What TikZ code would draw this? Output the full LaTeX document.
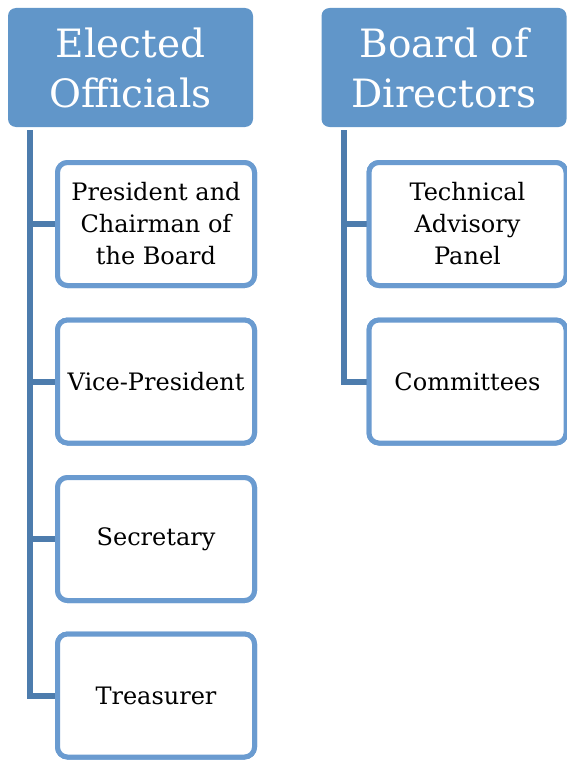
\documentclass[tikz,border=0pt]{standalone}
\usepackage{fontspec}
\setmainfont{DejaVu Serif}
\definecolor{hdrfill}{HTML}{6196C9}
\definecolor{boxline}{HTML}{6A9BD0}
\definecolor{conncol}{HTML}{4D7CAD}
\tikzset{
  header/.style={fill=hdrfill, rounded corners=8pt, minimum width=245pt, minimum height=119pt,
    text=white, align=center, inner sep=0pt,
    font=\fontsize{39}{50}\selectfont},
  child/.style={draw=boxline, line width=5pt, fill=white, rounded corners=10pt,
    minimum width=197pt, minimum height=123pt, align=center, inner sep=0pt,
    font=\fontsize{24}{32}\selectfont},
  conn/.style={draw=conncol, line width=6pt},
}
\begin{document}
\begin{tikzpicture}[x=1pt,y=1pt]
\useasboundingbox (0,0) rectangle (567,-760);
% headers
\node[header] (h1) at (130.5,-67.5) {Elected\\Officials};
\node[header] (h2) at (444,-67.5) {Board of\\Directors};
% connector anchors
\coordinate (t1) at (30,-130);
\coordinate (t2) at (344,-130);
% left children
\node[child] (c1) at (156,-224) {President and\\Chairman of\\the Board};
\node[child] (c2) at (156,-381.5) {Vice-President};
\node[child] (c3) at (156,-539) {Secretary};
\node[child] (c4) at (156,-695.5) {Treasurer};
% right children
\node[child] (d1) at (467.5,-224) {Technical\\Advisory\\Panel};
\node[child] (d2) at (467.5,-381.5) {Committees};
% connectors
\draw[conn] (t1) |- (c4.west);
\draw[conn] (t1 |- c1.west) -- (c1.west);
\draw[conn] (t1 |- c2.west) -- (c2.west);
\draw[conn] (t1 |- c3.west) -- (c3.west);
\draw[conn] (t2) |- (d2.west);
\draw[conn] (t2 |- d1.west) -- (d1.west);
% redraw boxes on top of connector ends
\node[child] at (c1) {President and\\Chairman of\\the Board};
\node[child] at (c2) {Vice-President};
\node[child] at (c3) {Secretary};
\node[child] at (c4) {Treasurer};
\node[child] at (d1) {Technical\\Advisory\\Panel};
\node[child] at (d2) {Committees};
\end{tikzpicture}
\end{document}
